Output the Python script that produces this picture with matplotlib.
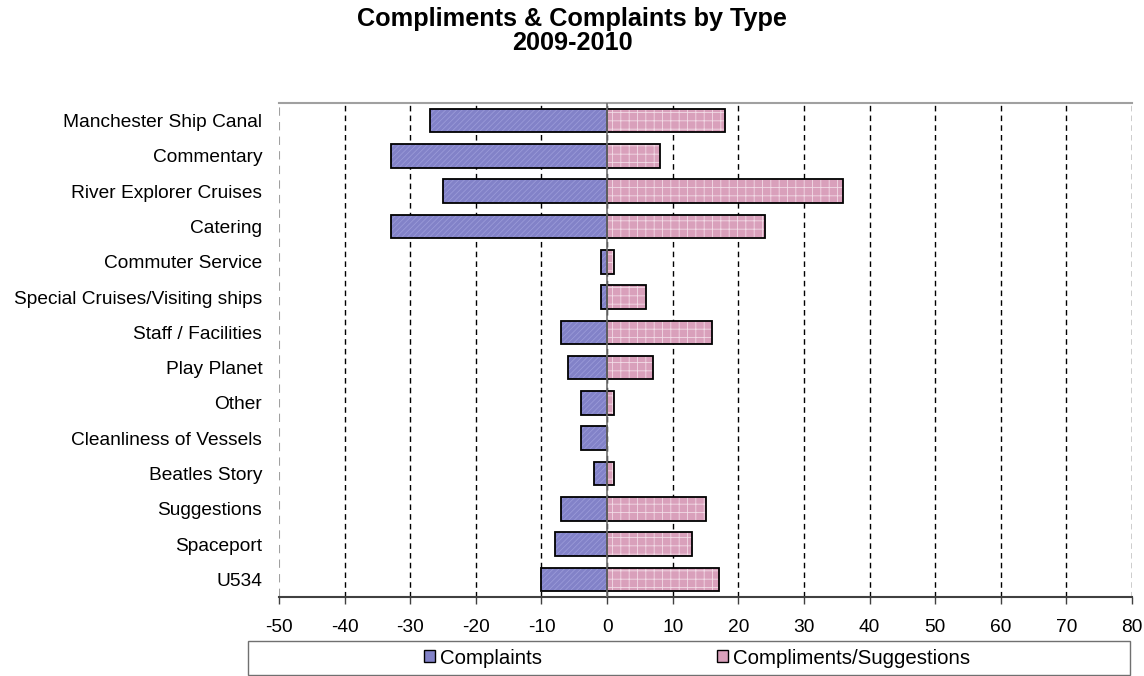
import matplotlib
matplotlib.use("Agg")
import matplotlib.pyplot as plt
import numpy as np
from matplotlib.patches import Patch, Rectangle

plt.rcParams['font.family'] = ['Liberation Sans', 'DejaVu Sans']
plt.rcParams['hatch.linewidth'] = 0.6

# categories top to bottom, as in the chart
categories = ['Manchester Ship Canal', 'Commentary', 'River Explorer Cruises', 'Catering',
              'Commuter Service', 'Special Cruises/Visiting ships', 'Staff / Facilities',
              'Play Planet', 'Other', 'Cleanliness of Vessels', 'Beatles Story',
              'Suggestions', 'Spaceport', 'U534']
complaints = [-27, -33, -25, -33, -1, -1, -7, -6, -4, -4, -2, -7, -8, -10]
compliments = [18, 8, 36, 24, 1, 6, 16, 7, 1, 0, 1, 15, 13, 17]
xticks = list(range(-50, 90, 10))

blue = '#8282c8'
pink = '#d9a0bb'
fs = 13.8

fig = plt.figure(figsize=(11.44, 6.76), dpi=100)
ax = fig.add_axes([0.2439, 0.1169, 0.7456, 0.7307])

y = np.arange(len(categories))
h = 0.67

# filled, hatched bars (hatch drawn in lighter tones)
ax.barh(y, complaints, height=h, color=blue, edgecolor='#9a9ad8', hatch='//////', linewidth=0, zorder=3)
ax.barh(y, compliments, height=h, color=pink, edgecolor='#f2dbe6', hatch='++', linewidth=0, zorder=3)
# black outlines on top
ax.barh(y, complaints, height=h, fill=False, edgecolor='black', linewidth=1.3, zorder=4)
ax.barh(y, [c if c != 0 else np.nan for c in compliments], height=h, fill=False,
        edgecolor='black', linewidth=1.3, zorder=4)

ax.set_xlim(-50, 80)
ax.set_ylim(len(categories) - 0.5, -0.5)
ax.set_xticks(xticks)
ax.set_xticklabels([str(t) for t in xticks], fontsize=fs)
ax.set_yticks(y)
ax.set_yticklabels(categories, fontsize=fs)
ax.tick_params(axis='y', length=0, pad=12)
ax.tick_params(axis='x', length=5, width=1, color='#404040', pad=11, direction='out')

for t in xticks[1:]:
    ax.axvline(t, color='black', linestyle=(0, (4, 3)), linewidth=1.0, zorder=1)
ax.axvline(0, color='#707070', linewidth=1.2, zorder=5)
ax.axvline(-50, color='#a0a0a0', linestyle=(0, (4, 3)), linewidth=1.5, zorder=1)

for s in ['top', 'right', 'left']:
    ax.spines[s].set_visible(False)
ax.plot([0, 1], [1, 1], transform=ax.transAxes, color='#a0a0a0', linewidth=1.5, clip_on=False)
ax.spines['bottom'].set_color('#404040')
ax.spines['bottom'].set_linewidth(1.5)

fig.suptitle('Compliments & Complaints by Type\n2009-2010', fontsize=18.2, fontweight='bold',
             y=0.989, va='top', linespacing=1.0)

# legend frame spanning below the plot
fig.patches.append(Rectangle((248 / 1144, 1 / 676), 882 / 1144, 34 / 676, transform=fig.transFigure,
                             facecolor='white', edgecolor='#707070', linewidth=1.0))
handles = [Patch(facecolor=blue, edgecolor='black', label='Complaints'),
           Patch(facecolor=pink, edgecolor='black', label='Compliments/Suggestions')]
leg = fig.legend(handles=handles, loc='center', bbox_to_anchor=(697 / 1144, 1 - 658 / 676),
                 ncol=2, fontsize=14.7, frameon=False, columnspacing=8.6,
                 handlelength=0.54, handleheight=0.54, handletextpad=0.25, borderaxespad=0,
                 borderpad=0.2)

fig.savefig('out.png', dpi=100)
